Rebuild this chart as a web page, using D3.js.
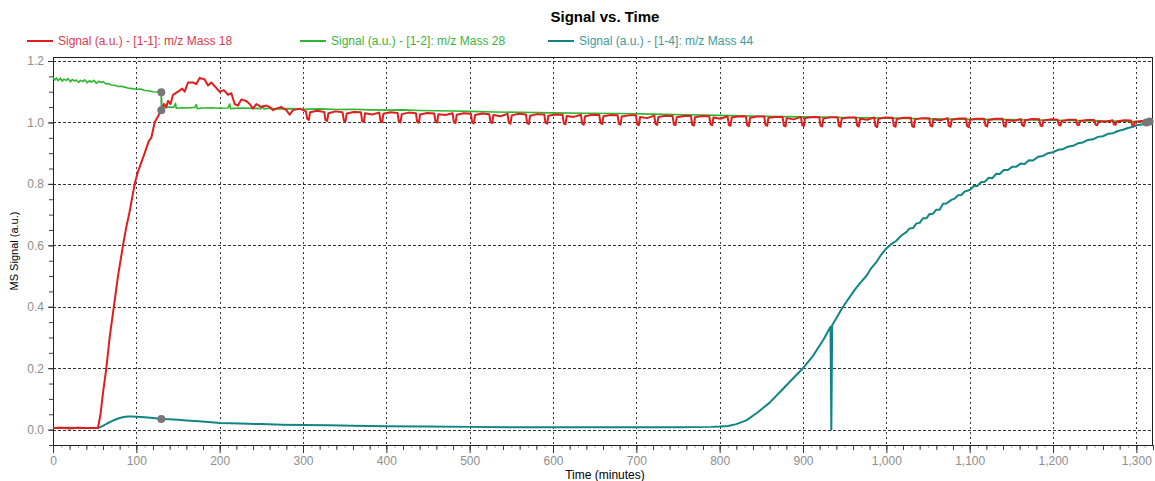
<!DOCTYPE html>
<html>
<head>
<meta charset="utf-8">
<script src="https://cdnjs.cloudflare.com/ajax/libs/d3/7.8.5/d3.min.js"></script>
<style>
  body { margin: 0; background: #fff; }
  svg { display: block; font-family: "Liberation Sans", Arial, sans-serif; }
</style>
</head>
<body>
<svg id="chart" width="1155" height="481"></svg>
<script>
/****** Signal vs. Time *******/

// series names + colours
const seriesNames = ["Signal (a.u.) - [1-1]: m/z Mass 18", "Signal (a.u.) - [1-2]: m/z Mass 28", "Signal (a.u.) - [1-4]: m/z Mass 44"];
const seriesColors = ["#e01e1e", "#2cb82c", "#118585"];
const legendColors = ["#d93a4a", "#3cb43c", "#3d9a9a"];

// tick values
const xTicks = [0, 100, 200, 300, 400, 500, 600, 700, 800, 900, 1000, 1100, 1200, 1300];
const yTicks = [0.0, 0.2, 0.4, 0.6, 0.8, 1.0, 1.2];

// [time (min), signal]
const mass18 = [
  [0,0.005],[10,0.006],[20,0.004],[30,0.006],[40,0.005],[50,0.005],[54,0.006],[57,0.05],[60,0.12],[64,0.2],
  [68,0.3],[73,0.4],[78,0.5],[84,0.6],[88,0.66],[92,0.71],[98,0.8],[102,0.84],[106,0.87],[110,0.9],
  [115,0.94],[118,0.95],[122,1.0],[126,1.02],[130,1.04],[133,1.06],[136,1.05],[138,1.07],[141,1.06],[144,1.09],
  [150,1.10],[155,1.11],[158,1.10],[162,1.13],[168,1.13],[172,1.125],[176,1.145],[182,1.14],[186,1.12],[190,1.13],
  [195,1.115],[200,1.10],[205,1.105],[210,1.09],[214,1.095],[218,1.06],[222,1.055],[226,1.075],[232,1.07],[236,1.06],
  [240,1.045],[244,1.06],[250,1.05],[256,1.055],[260,1.05],[264,1.04],[268,1.045],[274,1.05],[280,1.04],[284,1.025],
  [288,1.04],[296,1.045],
  [303.5,1.036],[305,1.012],[307,1.008],[308.5,1.033],[317,1.038],
  [325.5,1.034],[327,1.008],[329,1.005],[330.5,1.030],[339,1.036],
  [347.5,1.033],[349,1.006],[351,1.004],[352.5,1.029],[361,1.034],
  [369.5,1.033],[371,1.004],[373,1.002],[374.5,1.030],[383,1.026],
  [391.5,1.032],[393,1.005],[395,1.001],[396.5,1.028],[405,1.033],
  [413.5,1.031],[415,1.003],[417,1.000],[418.5,1.027],[427,1.032],
  [435.5,1.030],[437,1.002],[439,0.999],[440.5,1.026],[449,1.031],
  [457.5,1.029],[459,1.003],[461,1.000],[462.5,1.027],[471,1.024],
  [479.5,1.030],[481,1.001],[483,0.998],[484.5,1.025],[493,1.030],
  [501.5,1.028],[503,1.000],[505,0.997],[506.5,1.024],[515,1.029],
  [523.5,1.027],[525,1.001],[527,0.998],[528.5,1.024],[537,1.020],
  [545.5,1.028],[547,0.999],[549,0.996],[550.5,1.023],[559,1.028],
  [567.5,1.026],[569,0.998],[571,0.995],[572.5,1.022],[581,1.027],
  [589.5,1.026],[591,0.999],[593,0.996],[594.5,1.022],[603,1.026],
  [611.5,1.025],[613,0.997],[615,0.994],[616.5,1.021],[625,1.018],
  [633.5,1.025],[635,0.996],[637,0.993],[638.5,1.020],[647,1.025],
  [655.5,1.024],[657,0.998],[659,0.995],[660.5,1.020],[669,1.024],
  [677.5,1.023],[679,0.996],[681,0.993],[682.5,1.019],[691,1.023],
  [699.5,1.023],[701,0.994],[703,0.991],[704.5,1.018],[713,1.014],
  [721.5,1.022],[723,0.995],[725,0.992],[726.5,1.018],[735,1.022],
  [743.5,1.021],[745,0.994],[747,0.991],[748.5,1.017],[757,1.021],
  [765.5,1.021],[767,0.993],[769,0.990],[770.5,1.017],[779,1.021],
  [787.5,1.020],[789,0.994],[791,0.991],[792.5,1.016],[801,1.012],
  [809.5,1.020],[811,0.992],[813,0.989],[814.5,1.016],[823,1.020],
  [831.5,1.019],[833,0.991],[835,0.988],[836.5,1.015],[845,1.019],
  [853.5,1.019],[855,0.992],[857,0.989],[858.5,1.015],[867,1.018],
  [875.5,1.018],[877,0.990],[879,0.987],[880.5,1.014],[889,1.010],
  [897.5,1.018],[899,0.991],[901,0.988],[902.5,1.014],[911,1.018],
  [919.5,1.017],[921,0.990],[923,0.987],[924.5,1.013],[933,1.017],
  [941.5,1.017],[943,0.989],[945,0.986],[946.5,1.013],[955,1.016],
  [963.5,1.016],[965,0.990],[967,0.987],[968.5,1.012],[977,1.009],
  [985.5,1.016],[987,0.988],[989,0.985],[990.5,1.012],[999,1.016],
  [1007.5,1.015],[1009,0.989],[1011,0.986],[1012.5,1.011],[1021,1.015],
  [1029.5,1.015],[1031,0.988],[1033,0.985],[1034.5,1.010],[1043,1.014],
  [1051.5,1.014],[1053,0.990],[1055,0.987],[1056.5,1.010],[1065,1.007],
  [1073.5,1.014],[1075,0.989],[1077,0.986],[1078.5,1.009],[1087,1.013],
  [1095.5,1.013],[1097,0.988],[1099,0.985],[1100.5,1.009],[1109,1.012],
  [1117.5,1.012],[1119,0.990],[1121,0.987],[1122.5,1.008],[1131,1.012],
  [1139.5,1.012],[1141,0.989],[1143,0.986],[1144.5,1.008],[1153,1.005],
  [1161.5,1.011],[1163,0.991],[1165,0.988],[1166.5,1.007],[1175,1.011],
  [1183.5,1.010],[1185,0.990],[1187,0.988],[1188.5,1.006],[1197,1.010],
  [1205.5,1.009],[1207,0.992],[1209,0.990],[1210.5,1.005],[1219,1.009],
  [1227.5,1.009],[1229,0.993],[1231,0.991],[1232.5,1.005],[1241,1.008],
  [1249.5,1.008],[1251,0.993],[1253,0.991],[1254.5,1.004],[1263,1.002],
  [1271.5,1.007],[1273,0.994],[1275,0.992],[1276.5,1.003],[1285,1.007],
  [1293.5,1.006],[1295,0.992],[1297,0.990],[1298.5,1.002],[1307,1.005],
  [1312,0.995],[1316,1.004],[1320,1.006]
];

const mass28 = [
  [0,1.147],[2,1.138],[4,1.145],[6,1.136],[9,1.144],[11,1.134],[13,1.141],[16,1.137],[18,1.143],[21,1.132],
  [23,1.14],[26,1.135],[28,1.138],[31,1.13],[33,1.137],[36,1.133],[38,1.139],[41,1.129],[44,1.136],[46,1.131],
  [49,1.137],[52,1.128],[55,1.134],[58,1.13],[60,1.133],[63,1.126],[66,1.127],[70,1.122],[74,1.121],[78,1.117],
  [82,1.118],[86,1.115],[90,1.112],[95,1.11],[100,1.108],[105,1.109],[110,1.104],[115,1.103],[120,1.1],[125,1.099],
  [130,1.098],[130.5,1.05],[135,1.048],[140,1.05],[145,1.049],[147,1.062],[148,1.046],[155,1.048],[160,1.047],
  [170,1.049],[172,1.058],[173,1.045],[180,1.047],[190,1.048],[200,1.046],[210,1.047],[212,1.06],[213,1.045],
  [225,1.047],[240,1.046],[250,1.045],[252,1.055],[253,1.044],[260,1.046],[270,1.044],[285,1.045],[300,1.043],
  [320,1.044],[340,1.042],[360,1.043],[380,1.041],[400,1.04],[420,1.041],[440,1.039],[460,1.038],[480,1.037],
  [500,1.036],[530,1.034],[560,1.033],[600,1.031],[640,1.03],[680,1.029],[720,1.027],[760,1.025],[800,1.023],
  [850,1.02],[900,1.018],[950,1.016],[1000,1.014],[1050,1.012],[1100,1.010],[1150,1.009],[1200,1.007],
  [1250,1.005],[1300,1.003],[1320,1.001]
];

const mass44 = [
  [0,0.005],[20,0.006],[40,0.005],[54,0.005],[60,0.012],[65,0.02],[70,0.027],[75,0.033],[80,0.038],[85,0.041],
  [90,0.043],[95,0.043],[100,0.042],[110,0.04],[120,0.038],[130,0.035],[140,0.034],[150,0.032],[160,0.03],
  [175,0.027],[190,0.024],[200,0.022],[225,0.02],[250,0.018],[275,0.016],[300,0.015],[330,0.014],[360,0.013],
  [400,0.011],[450,0.01],[500,0.009],[550,0.008],[600,0.008],[650,0.008],[700,0.008],[750,0.008],[790,0.009],
  [800,0.01],[810,0.012],[820,0.018],[832,0.03],[845,0.055],[860,0.088],[875,0.13],[890,0.172],[900,0.2],
  [912,0.24],[925,0.295],[933,0.335],[934,0.0],[935,0.34],[948,0.40],[962,0.455],[970,0.482],[976,0.5],
  [982,0.526],[988,0.545],[994,0.57],[1000,0.59],[1006,0.604],[1012,0.615],[1018,0.632],[1024,0.643],
  [1028,0.655],[1032,0.656],[1036,0.671],[1040,0.673],[1044,0.688],[1048,0.688],[1052,0.702],[1056,0.703],
  [1060,0.716],[1064,0.716],[1068,0.735],[1072,0.736],[1078,0.748],[1082,0.752],[1086,0.763],[1090,0.764],
  [1094,0.775],[1100,0.78],[1105,0.793],[1109,0.793],[1114,0.806],[1118,0.807],[1123,0.82],[1127,0.818],
  [1132,0.833],[1136,0.832],[1141,0.845],[1146,0.845],[1151,0.856],[1156,0.856],[1161,0.866],[1166,0.865],
  [1171,0.877],[1176,0.876],[1182,0.888],[1188,0.891],[1194,0.9],[1200,0.903],[1206,0.911],[1212,0.913],
  [1218,0.921],[1224,0.924],[1230,0.932],[1236,0.935],[1242,0.943],[1248,0.945],[1254,0.953],[1260,0.955],
  [1266,0.963],[1272,0.965],[1278,0.972],[1284,0.976],[1290,0.982],[1296,0.986],[1302,0.992],[1310,0.995],
  [1320,1.0]
];

// cursor markers [time, signal]
const markers = [[130, 1.098], [130, 1.04], [130, 0.035], [1312, 1.0], [1316, 1.003]];

/** Creates the chart **/
var svgWidth = 1155, svgHeight = 481;
var margin = {top: 57, right: 2, bottom: 36, left: 53};
var width = svgWidth - margin.left - margin.right;
var height = svgHeight - margin.top - margin.bottom;

var svg = d3.select("#chart");
var g = svg.append("g")
    .attr("transform", "translate(" + margin.left + "," + margin.top + ")");

var x = d3.scaleLinear().domain([0, 1320]).range([0, width]);
var y = d3.scaleLinear().domain([-0.05, 1.213]).range([height, 0]);

// grid
g.append("g").selectAll("line")
    .data(yTicks)
    .enter().append("line")
    .attr("x1", 0).attr("x2", width)
    .attr("y1", d => Math.round(y(d)) + 0.5).attr("y2", d => Math.round(y(d)) + 0.5)
    .attr("stroke", "#333").attr("stroke-dasharray", "3,2");

g.append("g").selectAll("line")
    .data(xTicks.filter(d => d > 0))
    .enter().append("line")
    .attr("y1", 0).attr("y2", height)
    .attr("x1", d => Math.round(x(d)) + 0.5).attr("x2", d => Math.round(x(d)) + 0.5)
    .attr("stroke", "#333").attr("stroke-dasharray", "2,3");

// minor ticks
g.append("g")
    .attr("transform", "translate(0," + height + ")")
    .call(d3.axisBottom(x).tickValues(d3.range(0, 1321, 10)).tickSize(3).tickFormat(""))
    .call(a => a.select(".domain").remove())
    .selectAll("line").attr("stroke", "#aaa");
g.append("g")
    .attr("transform", "translate(0," + height + ")")
    .call(d3.axisBottom(x).tickValues(d3.range(0, 1321, 20)).tickSize(5).tickFormat(""))
    .call(a => a.select(".domain").remove())
    .selectAll("line").attr("stroke", "#444");
g.append("g")
    .call(d3.axisLeft(y).tickValues(d3.range(-0.05, 1.21, 0.05)).tickSize(4).tickFormat(""))
    .call(a => a.select(".domain").remove())
    .selectAll("line").attr("stroke", "#444");

// major axes
var xAxis = g.append("g")
    .attr("transform", "translate(0," + height + ")")
    .call(d3.axisBottom(x).tickValues(xTicks).tickSize(8).tickPadding(3).tickFormat(d3.format(",")));
var yAxis = g.append("g")
    .call(d3.axisLeft(y).tickValues(yTicks).tickSize(5).tickPadding(4).tickFormat(d3.format(".1f")));
[xAxis, yAxis].forEach(function (a) {
    a.select(".domain").remove();
    a.selectAll("line").attr("stroke", "#333");
    a.selectAll("text").attr("fill", "#8e8e8e").style("font-size", "12px")
        .style("font-family", "'Liberation Sans', Arial, sans-serif");
});

// frame
g.append("rect")
    .attr("x", 0.5).attr("y", 0.5)
    .attr("width", width - 1).attr("height", height)
    .attr("fill", "none").attr("stroke", "#222");

// lines
var line = d3.line()
    .x(d => x(d[0]))
    .y(d => y(d[1]));

var allSeries = [mass18, mass28, mass44];
var widths = [2, 1.6, 2];
[1, 2, 0].forEach(function (i) {
    g.append("path")
        .datum(allSeries[i])
        .attr("fill", "none")
        .attr("stroke", seriesColors[i])
        .attr("stroke-width", widths[i])
        .attr("stroke-linejoin", "round")
        .attr("d", line);
});

// connector at cursor
g.append("line")
    .attr("x1", x(130)).attr("x2", x(130))
    .attr("y1", y(markers[0][1])).attr("y2", y(markers[1][1]))
    .attr("stroke", "#4a9a4a").attr("stroke-width", 1.5);

g.selectAll(".marker")
    .data(markers)
    .enter().append("circle")
    .attr("class", "marker")
    .attr("cx", d => x(d[0]))
    .attr("cy", d => y(d[1]))
    .attr("r", 4)
    .attr("fill", "#777");

// title
svg.append("text")
    .attr("x", 605).attr("y", 22)
    .attr("text-anchor", "middle")
    .style("font-size", "15px").style("font-weight", "bold")
    .text("Signal vs. Time");

// legend
var legendX = [27, 300, 548];
var legend = svg.append("g").attr("transform", "translate(0,41)");
var entries = legend.selectAll("g")
    .data(seriesNames)
    .enter().append("g")
    .attr("transform", (d, i) => "translate(" + legendX[i] + ",0)");
entries.append("line")
    .attr("x1", 0).attr("x2", 26)
    .attr("stroke", (d, i) => seriesColors[i])
    .attr("stroke-width", 2);
entries.append("text")
    .attr("x", 31).attr("y", 4)
    .attr("fill", (d, i) => legendColors[i])
    .style("font-size", "12px")
    .text(d => d);

// axis titles
svg.append("text")
    .attr("transform", "translate(18," + (margin.top + height / 2) + ") rotate(-90)")
    .attr("text-anchor", "middle")
    .style("font-size", "11px")
    .text("MS Signal (a.u.)");
svg.append("text")
    .attr("x", 605).attr("y", 479)
    .attr("text-anchor", "middle")
    .style("font-size", "12px")
    .text("Time (minutes)");
</script>
</body>
</html>
